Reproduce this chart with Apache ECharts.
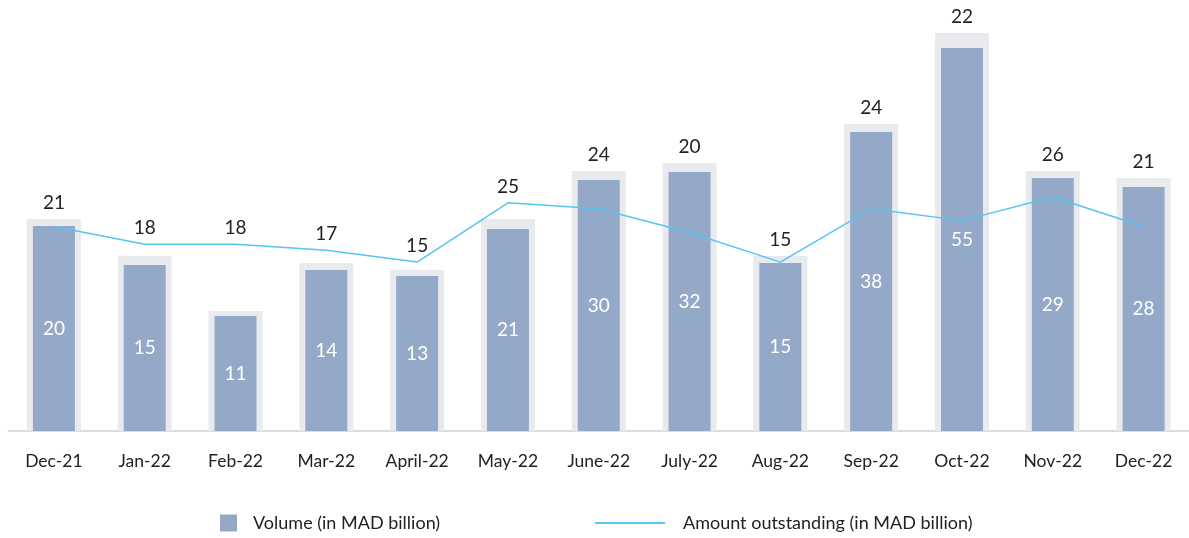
<!DOCTYPE html>
<html>
<head>
  <meta charset="UTF-8">
  <title>Volume and amount outstanding</title>
  <script src="https://cdn.jsdelivr.net/npm/echarts@6/dist/echarts.min.js"></script>
  <style>
    html, body { margin: 0; padding: 0; background: #fff; }
    #main { width: 1189px; height: 538px; }
  </style>
</head>
<body>
  <div id="main"></div>
<script type="text/javascript">
  var months = ['Dec-21', 'Jan-22', 'Feb-22', 'Mar-22', 'April-22', 'May-22', 'June-22',
    'July-22', 'Aug-22', 'Sep-22', 'Oct-22', 'Nov-22', 'Dec-22'];
  // printed volume labels (MAD billion)
  var volume = [20, 15, 11, 14, 13, 21, 30, 32, 15, 38, 55, 29, 28];
  // bar heights as drawn in the picture (not proportional to the labels)
  var barLevel = [205, 166, 115, 161, 155, 202, 251, 259, 168, 299, 383, 253, 244];
  // grey backdrop heights as drawn
  var backLevel = [212, 175, 120, 168, 161, 212, 260, 268, 175, 307, 398, 260, 253];
  // amount outstanding (MAD billion)
  var outstanding = [21, 18, 18, 17, 15, 25, 24, 20, 15, 24, 22, 26, 21];

  var volName = 'Volume (in MAD billion)';
  var outName = 'Amount outstanding (in MAD billion)';
  var font = 'Lato, "Noto Sans", sans-serif';

  var linePx = null;   // pixel y of line points, filled after first render

  function backData() {
    return backLevel.map(function (v, i) { return [i, v]; });
  }

  var myChart = echarts.init(document.getElementById('main'));

  var option = {
    animation: false,
    grid: { left: 8.5, top: 31, width: 1184.3, bottom: 107 },
    legend: [
      {
        left: 215, top: 509, itemWidth: 17, itemHeight: 17, icon: 'rect',
        data: [volName],
        textStyle: { fontFamily: font, fontSize: 18, color: '#222', padding: [0, 0, 0, 11] }
      },
      {
        left: 590, top: 509, itemWidth: 70, itemHeight: 2, icon: 'rect',
        data: [outName],
        textStyle: { fontFamily: font, fontSize: 18, color: '#222', padding: [0, 0, 0, 13] }
      }
    ],
    xAxis: {
      type: 'category',
      data: months,
      axisTick: { show: false },
      axisLine: { lineStyle: { color: '#dcdcdc', width: 2 } },
      axisLabel: { fontFamily: font, fontSize: 17.5, color: '#222', margin: 21 }
    },
    yAxis: [
      { type: 'value', min: 0, max: 400, show: false },
      { type: 'value', min: -13.5, max: 54, show: false }
    ],
    series: [
      {
        name: 'back',
        type: 'custom',
        z: 1,
        renderItem: function (params, api) {
          var top = api.coord([api.value(0), api.value(1)]);
          var base = api.coord([api.value(0), 0]);
          return {
            type: 'rect',
            shape: { x: top[0] - 27, y: top[1], width: 54, height: base[1] - top[1] },
            style: { fill: '#e9eaee' }
          };
        },
        data: backData()
      },
      {
        name: volName,
        type: 'bar',
        z: 2,
        barWidth: 42,
        itemStyle: { color: '#94a9c7' },
        label: {
          show: true, position: 'inside', fontFamily: font, fontSize: 19, color: '#fff',
          formatter: function (p) { return volume[p.dataIndex]; }
        },
        data: barLevel
      },
      {
        name: outName,
        type: 'line',
        yAxisIndex: 1,
        z: 3,
        symbol: 'none',
        itemStyle: { color: '#56c5f2' },
        lineStyle: { color: '#56c5f2', width: 1.5 },
        data: outstanding
      },
      {
        name: 'tops',
        type: 'custom',
        z: 5,
        renderItem: function (params, api) {
          var i = api.value(0);
          var top = api.coord([i, api.value(1)]);
          var y = top[1];
          if (linePx) y = Math.min(y, linePx[i]);
          return {
            type: 'text',
            style: {
              x: top[0], y: y - 16, text: String(outstanding[i]),
              fill: '#222', font: '19px ' + font, align: 'center', verticalAlign: 'middle'
            }
          };
        },
        data: backData()
      }
    ]
  };
  myChart.setOption(option);

  // second pass: place the top labels above the higher of line point and backdrop
  linePx = outstanding.map(function (v) {
    return myChart.convertToPixel({ yAxisIndex: 1 }, v);
  });
  myChart.setOption({ series: [{}, {}, {}, { data: backData() }] });
</script>
</body>
</html>
